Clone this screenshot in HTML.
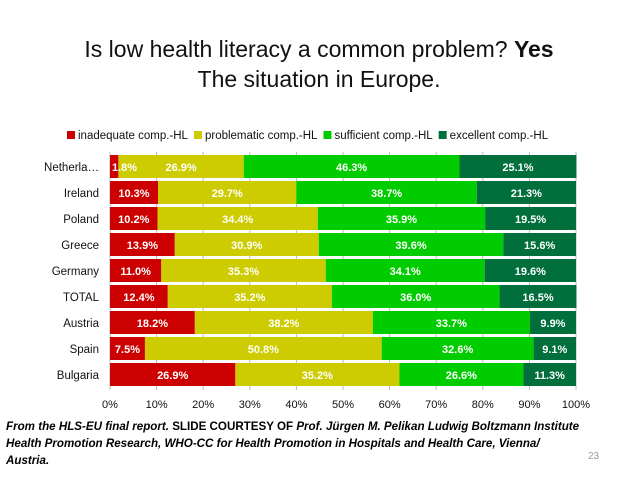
<!DOCTYPE html>
<html><head><meta charset="utf-8"><style>
body{margin:0;width:638px;height:479px;background:#fff;overflow:hidden;position:relative;font-family:"Liberation Sans",sans-serif}
.t{position:absolute;left:0;width:638px;text-align:center;font-size:23px;color:#111}
.foot{position:absolute;left:6px;top:418px;font-size:11.6px;font-style:italic;font-weight:bold;line-height:17px;color:#000}
</style></head><body>
<div class="t" style="top:36px">Is low health literacy a common problem? <b>Yes</b></div>
<div class="t" style="top:66px">The situation in Europe.</div>
<svg id="c" width="638" height="479" style="position:absolute;left:0;top:0"></svg>
<div class="foot">From the HLS-EU final report. <span style="font-style:normal">SLIDE COURTESY OF</span> Prof. Jürgen M. Pelikan Ludwig Boltzmann Institute<br>Health Promotion Research, WHO-CC for Health Promotion in Hospitals and Health Care, Vienna/<br>Austria.</div>
<div style="position:absolute;left:588px;top:451px;font-size:10px;color:#999">23</div>
<script>
const categories=["Netherla…","Ireland","Poland","Greece","Germany","TOTAL","Austria","Spain","Bulgaria"];
const inadequate=[1.8,10.3,10.2,13.9,11.0,12.4,18.2,7.5,26.9];
const problematic=[26.9,29.7,34.4,30.9,35.3,35.2,38.2,50.8,35.2];
const sufficient=[46.3,38.7,35.9,39.6,34.1,36.0,33.7,32.6,26.6];
const excellent=[25.1,21.3,19.5,15.6,19.6,16.5,9.9,9.1,11.3];
const ticks=[0,10,20,30,40,50,60,70,80,90,100];
const seriesNames=["inadequate comp.-HL","problematic comp.-HL","sufficient comp.-HL","excellent comp.-HL"];
const colors=["#cc0000","#cccc00","#00cc00","#006f3c"];
const series=[inadequate,problematic,sufficient,excellent];
const svg=document.getElementById('c');const NS="http://www.w3.org/2000/svg";
const X=v=>110+v*4.66, Y=i=>154+i*26;
function mk(t,a,p){const e=document.createElementNS(NS,t);for(const k in a)e.setAttribute(k,a[k]);(p||svg).appendChild(e);return e;}
ticks.forEach(t=>{
 const l=mk('line',{x1:X(t),x2:X(t),y1:152,y2:390,stroke:'#bbb','stroke-width':1});
 
 
 const tx=mk('text',{x:X(t),y:408,'text-anchor':'middle','font-size':11,fill:'#111'});tx.textContent=t+'%';
 
 
});
const labelsG=document.createElementNS(NS,'g');
categories.forEach((c,i)=>{
 const y=Y(i);let acc=0;
 const lab=mk('text',{x:99,y:y+17,'text-anchor':'end','font-size':11.5,fill:'#111'});lab.textContent=c;
 
 
 series.forEach((s,k)=>{
  const v=s[i];
  const r=mk('rect',{x:X(acc),y:y+1,width:X(acc+v)-X(acc),height:23,fill:colors[k]});
  
  
  const narrow=v<4;
  const tx=mk('text',{x:narrow?X(acc)+2:X(acc+v/2),y:y+17,'text-anchor':narrow?'start':'middle','font-size':11,'font-weight':'bold',fill:'#fff'},labelsG);
  tx.textContent=v.toFixed(1)+'%';
  
  
  acc+=v;
 });
});
svg.appendChild(labelsG);
let lx=67;
seriesNames.forEach((n,k)=>{
 const r=mk('rect',{x:lx,y:131,width:8,height:8,fill:colors[k]});
 
 
 const t=mk('text',{x:lx+11,y:139,'font-size':11.5,fill:'#111'});t.textContent=n;
 
 
 lx+=11+t.getComputedTextLength()+6;
});
</script>
</body></html>
